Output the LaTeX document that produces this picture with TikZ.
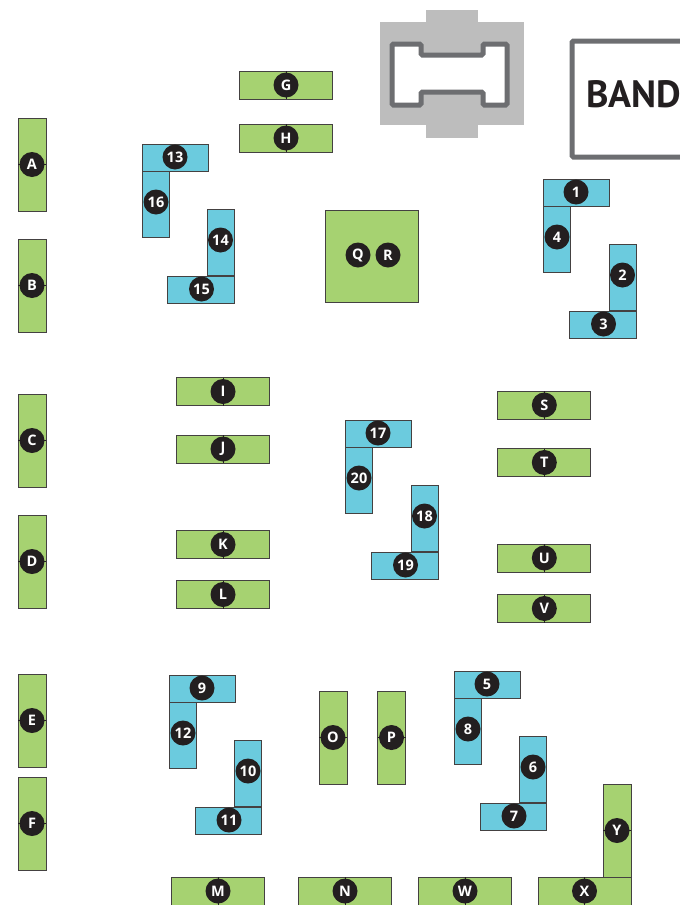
\documentclass[tikz,border=0pt]{standalone}
\usepackage{fontspec}
\setsansfont{Open Sans}
\newfontfamily\bandfont{PT Sans}
\usepackage{xcolor}
\usetikzlibrary{positioning}
\definecolor{tablegreen}{HTML}{A6D271}
\definecolor{tableblue}{HTML}{6BCBDE}
\definecolor{stagegray}{HTML}{BDBDBD}
\definecolor{wallgray}{HTML}{6D6E71}
\definecolor{markblack}{HTML}{231F20}
\tikzset{
  tablebox/.style={draw=markblack!85,line width=0.9pt,inner sep=0pt,outer sep=0pt},
  greenv/.style={tablebox,fill=tablegreen,minimum width=28pt,minimum height=93pt},
  greenh/.style={tablebox,fill=tablegreen,minimum width=93pt,minimum height=28pt},
  bluev/.style={tablebox,fill=tableblue,minimum width=27pt,minimum height=66pt},
  blueh/.style={tablebox,fill=tableblue,minimum width=66.5pt,minimum height=27pt},
  seatmark/.style={circle,fill=markblack,text=white,inner sep=0pt,minimum size=25pt,
    font=\sffamily\bfseries\fontsize{14.5}{14.5}\selectfont},
  tick/.style={draw=markblack,line width=0.8pt},
  wall/.style={draw=wallgray,line width=5pt,rounded corners=1.5pt}
}
\begin{document}
\begin{tikzpicture}[x=1pt,y=-1pt]
  \useasboundingbox (0,0) rectangle (680,905);
  % stage
  \fill[stagegray] (380,22) rectangle (524,125);
  \fill[stagegray] (426,10) rectangle (478,138);
  \draw[wall,fill=white] (392,44) -- (421,44) -- (421,55) -- (483,55) -- (483,44) -- (507,44)
    -- (507,105) -- (483,105) -- (483,92) -- (421,92) -- (421,105) -- (392,105) -- cycle;
  % band
  \draw[wall] (680,41) -- (572,41) -- (572,157) -- (680,157);
  \node[anchor=west,inner sep=0pt,text=markblack,font=\bandfont\bfseries\fontsize{38}{38}\selectfont] (band) at (586,94) {BAND};
  % upright green tables
  \foreach \name/\x/\y in {A/32/164.5,B/32/285.5,C/32/440.5,D/32/561.5,E/32/720.5,F/32/823.5,O/333/737.5,P/391.5/737.5,Y/617/830.5} {
    \node[greenv] (t\name) at (\x,\y) {};
    \draw[tick] (t\name.west) -- (t\name.east);
    \node[seatmark] (m\name) at (\x,\y) {\name};
  }
  % flat green tables
  \foreach \name/\x/\y in {G/286/85,H/286/138,I/223/391.5,J/223/449,K/223/544.5,L/223/594.5,S/544.3/405,T/544.3/462.5,U/544.3/558,V/544.3/608.5,M/218/891,N/345/891,W/465/891,X/584.5/891} {
    \node[greenh] (t\name) at (\x,\y) {};
    \draw[tick] (t\name.north) -- (t\name.south);
    \node[seatmark] (m\name) at (\x,\y) {\name};
  }
  % centre square
  \node[tablebox,fill=tablegreen,minimum size=92.5pt] (square) at (372,256.5) {};
  \node[seatmark] (mQ) at (358,255) {Q};
  \node[seatmark] (mR) at (388,255) {R};
  % blue groups of four
  \foreach \gx/\gy/\dx/\one/\two/\three/\four in {543/179/1/1/2/3/4,142/144/0/13/14/15/16,345/420/1/17/18/19/20,169/675/0.5/9/10/11/12,454/671/0.5/5/6/7/8} {
    \begin{scope}[shift={(\gx,\gy)}]
      \node[bluev] (t\two) at (78.5+\dx,98.5) {};
      \node[blueh] (t\three) at (59+\dx,145.5) {};
      \node[bluev] (t\four) at (14,60.5) {};
      \node[blueh] (t\one) at (33.5,14) {};
      \node[seatmark] (m\one) at (33,13) {\one};
      \node[seatmark] (m\two) at (78.5+\dx,96) {\two};
      \node[seatmark] (m\three) at (59.5+\dx,145) {\three};
      \node[seatmark] (m\four) at (14,58) {\four};
    \end{scope}
  }
\end{tikzpicture}
\end{document}
